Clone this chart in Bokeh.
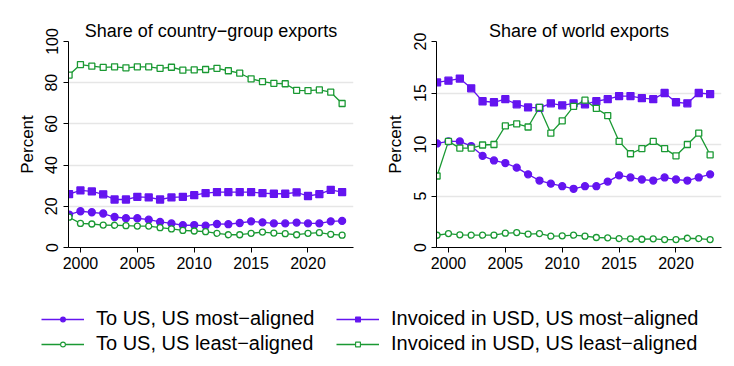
from bokeh.plotting import figure
from bokeh.models import Range1d, ColumnDataSource, Legend, LegendItem
from bokeh.layouts import row, column
from bokeh.embed import file_html
from bokeh.resources import INLINE

years = [1999, 2000, 2001, 2002, 2003, 2004, 2005, 2006, 2007, 2008, 2009, 2010,
         2011, 2012, 2013, 2014, 2015, 2016, 2017, 2018, 2019, 2020, 2021, 2022, 2023]
x_ticks = [2000, 2005, 2010, 2015, 2020]

# Share of country-group exports
grp_to_us_most = [16.0, 17.6, 17.1, 16.5, 14.8, 14.2, 14.2, 13.5, 12.4, 11.7, 10.8, 10.9,
                  10.6, 11.4, 11.3, 11.9, 12.7, 12.2, 11.7, 11.7, 12.1, 11.7, 11.7, 12.7, 12.9]
grp_to_us_least = [14.7, 11.7, 11.4, 10.9, 10.8, 10.6, 10.4, 10.4, 9.6, 9.0, 8.3, 8.0,
                   7.7, 6.9, 6.2, 6.2, 6.9, 7.5, 7.0, 6.7, 6.2, 6.9, 7.2, 6.4, 6.0]
grp_usd_most = [25.9, 27.7, 27.2, 25.8, 23.3, 23.3, 24.6, 24.3, 23.3, 24.3, 24.6, 25.4,
                26.4, 26.9, 26.9, 26.9, 26.9, 26.4, 26.1, 26.1, 26.8, 25.0, 25.9, 28.0, 26.9]
grp_usd_least = [83.7, 88.8, 88.0, 87.4, 87.7, 87.2, 87.7, 87.7, 87.0, 87.5, 86.1, 86.2,
                 86.4, 87.0, 85.8, 84.6, 81.9, 80.5, 79.7, 79.5, 76.3, 76.2, 76.5, 75.4, 69.9]
grp_y_ticks = [0, 20, 40, 60, 80, 100]

# Share of world exports
wld_to_us_most = [10.1, 10.3, 10.3, 9.85, 8.9, 8.45, 8.2, 7.75, 7.1, 6.5, 6.2, 5.95,
                  5.7, 5.95, 5.95, 6.4, 7.0, 6.8, 6.6, 6.5, 6.8, 6.6, 6.5, 6.8, 7.1]
wld_to_us_least = [1.19, 1.35, 1.23, 1.2, 1.2, 1.2, 1.39, 1.45, 1.3, 1.35, 1.1, 1.13,
                   1.2, 1.1, 0.97, 0.94, 0.87, 0.84, 0.8, 0.84, 0.77, 0.77, 0.9, 0.87, 0.77]
wld_usd_most = [16.03, 16.2, 16.4, 15.45, 14.2, 14.1, 14.4, 13.9, 13.6, 13.55, 14.0, 13.8,
                14.0, 13.9, 14.2, 14.4, 14.7, 14.7, 14.5, 14.4, 15.0, 14.1, 14.0, 15.0, 14.9]
wld_usd_least = [6.94, 10.3, 9.65, 9.65, 9.95, 10.0, 11.8, 12.0, 11.7, 13.6, 11.1, 12.3,
                 13.7, 14.3, 13.5, 12.8, 10.3, 9.1, 9.6, 10.3, 9.6, 8.9, 10.0, 11.1, 9.0]
wld_y_ticks = [0, 5, 10, 15, 20]

labels = ["To US, US most\u2212aligned", "To US, US least\u2212aligned",
          "Invoiced in USD, US most\u2212aligned", "Invoiced in USD, US least\u2212aligned"]

PURPLE = "#6414F0"
GREEN = "#1A9933"
FONT = "Liberation Sans"

styles = [
    dict(color=PURPLE, marker="circle", fill=PURPLE, size=7),
    dict(color=GREEN, marker="circle", fill="white", size=6),
    dict(color=PURPLE, marker="square", fill=PURPLE, size=7),
    dict(color=GREEN, marker="square", fill="white", size=6),
]


def make_panel(title, ymax, yticks, series, border_left, border_right):
    p = figure(frame_width=285, frame_height=206,
               x_range=Range1d(1998.95, 2024), y_range=Range1d(0, ymax),
               output_backend="svg", toolbar_location=None,
               min_border_left=border_left, min_border_right=border_right,
               min_border_top=41, min_border_bottom=30, title=title)
    p.title.text_font = FONT
    p.title.text_font_size = "18px"
    p.title.text_font_style = "normal"
    p.title.text_color = "black"
    p.title.align = "center"
    p.title.standoff = 1
    p.outline_line_color = None
    p.xgrid.visible = False
    p.ygrid.grid_line_color = "#e6e6e6"
    p.ygrid.grid_line_width = 1.5
    p.xaxis.ticker = x_ticks
    p.yaxis.ticker = yticks
    for ax in (p.xaxis, p.yaxis):
        ax.axis_line_color = "black"
        ax.major_tick_line_color = "black"
        ax.minor_tick_line_color = None
        ax.major_tick_in = 0
        ax.major_tick_out = 5
        ax.major_label_text_font = FONT
        ax.major_label_text_font_size = "16px"
        ax.major_label_text_color = "black"
    p.xaxis.major_label_standoff = 4
    p.yaxis.major_label_standoff = 6
    p.yaxis.major_label_orientation = "vertical"
    p.yaxis.axis_label = "Percent"
    p.yaxis.axis_label_text_font = FONT
    p.yaxis.axis_label_text_font_size = "17px"
    p.yaxis.axis_label_text_font_style = "normal"
    p.yaxis.axis_label_text_color = "black"
    p.yaxis.axis_label_standoff = 6
    for vals, st in zip(series, styles):
        p.line(years, vals, line_color=st["color"], line_width=1.3)
        p.scatter(years, vals, marker=st["marker"], size=st["size"],
                  fill_color=st["fill"], line_color=st["color"], line_width=1.3)
    return p


p1 = make_panel("Share of country\u2212group exports", 100, grp_y_ticks,
                [grp_to_us_most, grp_to_us_least, grp_usd_most, grp_usd_least], 68, 16)
p2 = make_panel("Share of world exports", 20, wld_y_ticks,
                [wld_to_us_most, wld_to_us_least, wld_usd_most, wld_usd_least], 67, 4)

# Legend figure (renderers hold no visible points; they only supply legend glyphs)
lf = figure(width=725, height=79, output_backend="svg", toolbar_location=None,
            x_axis_location=None, y_axis_location=None, min_border=0,
            x_range=Range1d(0, 1), y_range=Range1d(0, 1))
lf.outline_line_color = None
lf.grid.visible = False
nan = float("nan")
items = []
for lab, st in zip(labels, styles):
    src = ColumnDataSource(data=dict(x=[nan], y=[nan]))
    lr = lf.line("x", "y", source=src, line_color=st["color"], line_width=1.3)
    sr = lf.scatter("x", "y", source=src, marker=st["marker"], size=5,
                    fill_color=st["fill"], line_color=st["color"], line_width=1.1)
    items.append(LegendItem(label=lab, renderers=[lr, sr], index=0))

for its, xloc in ((items[:2], 41), (items[2:], 336)):
    lg = Legend(items=its, location=(xloc, 1), orientation="vertical",
                padding=0, margin=0, spacing=2, border_line_color=None,
                background_fill_alpha=0, glyph_width=43, glyph_height=12,
                label_height=12, label_standoff=12,
                label_text_font=FONT, label_text_font_size="20px",
                label_text_color="black")
    lf.add_layout(lg)

layout = column(row(p1, p2), lf)
open("out.html", "w").write(file_html(layout, INLINE))
